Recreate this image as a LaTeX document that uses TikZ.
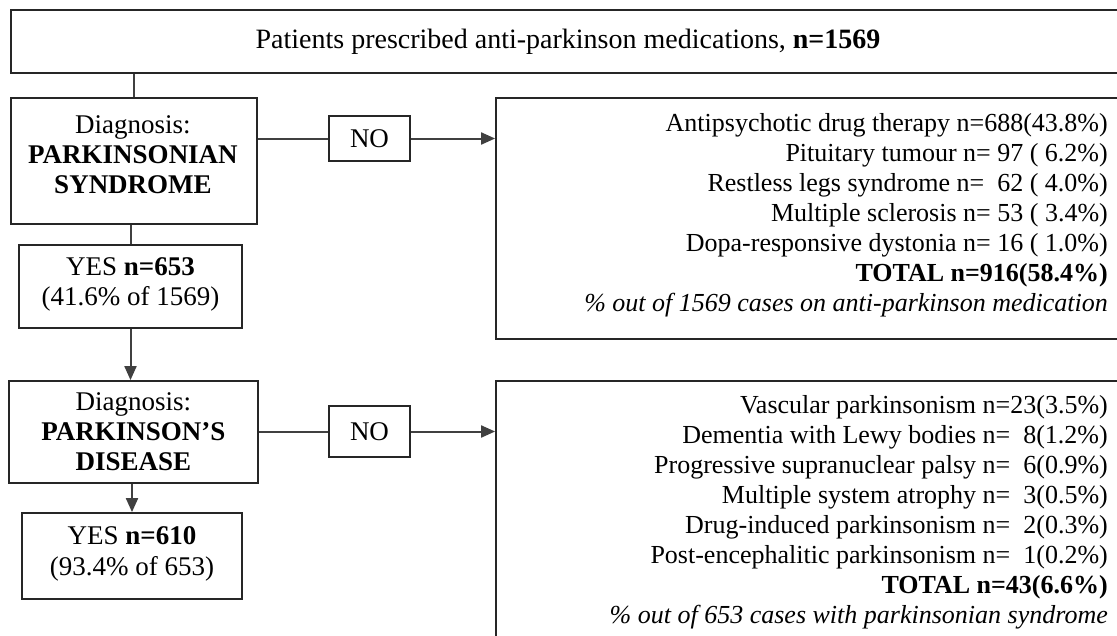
\documentclass[tikz,border=0pt]{standalone}
\usepackage{fontspec}
\setmainfont{Liberation Serif}
\usetikzlibrary{arrows.meta, positioning}

\tikzset{
    box/.style={draw=black!85, line width=1.8pt, inner sep=0pt, align=center,
        font=\fontsize{27}{30}\selectfont},
    txt/.style={inner sep=0pt, font=\fontsize{26}{30}\selectfont},
    link/.style={draw=black!75, line width=2pt}
}

\begin{document}
\begin{tikzpicture}[
    x=1pt, y=-1pt,
    >={Triangle[length=14pt, width=12pt]}
]
\useasboundingbox (0,0) rectangle (1117,635);
\clip (0,0) rectangle (1117,635);

% title
\node[box, minimum width=1114pt, minimum height=63pt, font=\fontsize{28}{30}\selectfont]
    (top) at (568,41.5)
    {Patients prescribed anti-parkinson medications, \textbf{n=1569}};

% left column
\node[box, minimum width=246pt, minimum height=126pt] (ps) at (134,161) {};
\node[txt, align=center, font=\fontsize{27}{30}\selectfont] (ps-txt) at (133,154.5)
    {Diagnosis:\\\textbf{PARKINSONIAN}\\\textbf{SYNDROME}};
\node[box, minimum width=223pt, minimum height=83pt] (yes1) at (130.5,286.5) {};
\node[txt, align=center, font=\fontsize{27}{30}\selectfont] (yes1-txt) at (130.5,284.5)
    {YES \textbf{n=653}\\(41.6\% of 1569)};
\node[box, minimum width=249pt, minimum height=102pt] (pd) at (133.5,432)
    {Diagnosis:\\\textbf{PARKINSON’S}\\\textbf{DISEASE}};
\node[box, minimum width=220pt, minimum height=86pt] (yes2) at (132,556) {};
\node[txt, align=center, font=\fontsize{27}{31}\selectfont] (yes2-txt) at (132,553.5)
    {YES \textbf{n=610}\\(93.4\% of 653)};

% NO boxes
\node[box, minimum width=81pt, minimum height=45pt] (no1) at (369.5,138.5) {NO};
\node[box, minimum width=81pt, minimum height=51pt] (no2) at (369.5,431.5) {NO};

% right column
\node[box, minimum width=634pt, minimum height=241pt] (r1) at (813,218.5) {};
\node[txt, align=right, anchor=east] (r1-txt) at (1108,215)
    {Antipsychotic drug therapy n=688(43.8\%)\\
     Pituitary tumour n=~97 (~6.2\%)\\
     Restless legs syndrome n=~~62 (~4.0\%)\\
     Multiple sclerosis n=~53 (~3.4\%)\\
     Dopa-responsive dystonia n=~16 (~1.0\%)\\
     \textbf{TOTAL n=916(58.4\%)}\\
     \textit{\% out of 1569 cases on anti-parkinson medication}};
\node[box, minimum width=634pt, minimum height=279pt] (r2) at (813,520.5) {};
\node[txt, align=right, anchor=east] (r2-txt) at (1108,512.5)
    {Vascular parkinsonism n=23(3.5\%)\\
     Dementia with Lewy bodies n=~~8(1.2\%)\\
     Progressive supranuclear palsy n=~~6(0.9\%)\\
     Multiple system atrophy n=~~3(0.5\%)\\
     Drug-induced parkinsonism n=~~2(0.3\%)\\
     Post-encephalitic parkinsonism n=~~1(0.2\%)\\
     \textbf{TOTAL n=43(6.6\%)}\\
     \textit{\% out of 653 cases with parkinsonian syndrome}};

% connectors
\draw[link] (ps.north) -- (ps.north |- top.south);
\draw[link] (yes1.north) -- (yes1.north |- ps.south);
\draw[link, ->] (yes1.south) -- (yes1.south |- pd.north);
\draw[link, ->] (yes2.north |- pd.south) -- (yes2.north);
\draw[link] (no1.west -| ps.east) -- (no1.west);
\draw[link, ->] (no1.east) -- (no1.east -| r1.west);
\draw[link] (no2.west -| pd.east) -- (no2.west);
\draw[link, ->] (no2.east) -- (no2.east -| r2.west);

\end{tikzpicture}
\end{document}
